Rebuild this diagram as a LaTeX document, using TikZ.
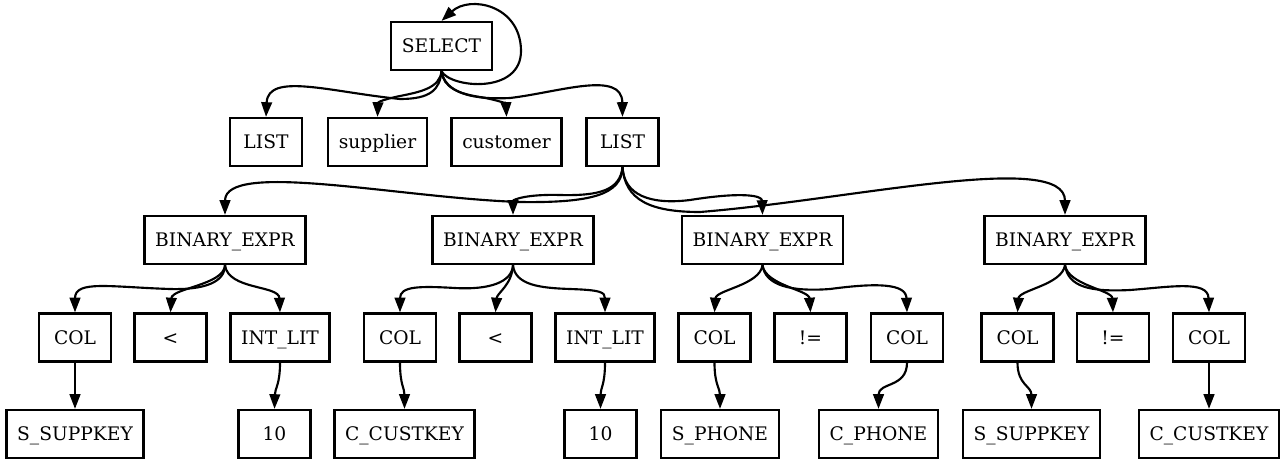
\documentclass[tikz,border=0pt]{standalone}
\usepackage{fontspec}
\setmainfont{DejaVu Serif}
\usepackage{tikz}
\usetikzlibrary{arrows.meta}

\begin{document}
\begin{tikzpicture}[x=0.75pt, y=-0.75pt,
    box/.style={draw, line width=1.7pt, minimum width=54pt, minimum height=36pt,
        inner xsep=8pt, text height=11.5pt, text depth=1.3pt,
        font=\fontsize{14pt}{16pt}\selectfont},
    edge/.style={line width=1.6pt, -{Triangle[length=11pt, width=8pt]}}]
    \useasboundingbox (0,0) rectangle (1285,465);

    % Root
    \node[box] (sel) at (441.5,46) {SELECT};

    % Level 1
    \foreach \n/\x/\t in {l1/266/LIST, sup/377.5/supplier, cus/506.5/customer, l2/622.5/LIST}
        \node[box] (\n) at (\x,142) {\t};

    % Expressions
    \foreach \n/\x in {be1/225, be2/513, be3/762.5, be4/1065}
        \node[box] (\n) at (\x,240) {BINARY\_EXPR};

    % Operands
    \foreach \n/\x/\t in {c1/75/COL, lt1/170.5/<, il1/280/INT\_LIT,
                          c2/400/COL, lt2/495.5/<, il2/605/INT\_LIT,
                          c3/714.5/COL, ne1/810.5/!=, c4/907/COL,
                          c5/1017.5/COL, ne2/1113/!=, c6/1209/COL}
        \node[box] (\n) at (\x,337.5) {\t};

    % Leaves
    \foreach \n/\x/\t in {s1/75/S\_SUPPKEY, t1/274.5/10, k1/404.5/C\_CUSTKEY,
                          t2/600.5/10, p1/720/S\_PHONE, p2/878.5/C\_PHONE,
                          s2/1031.5/S\_SUPPKEY, k2/1209/C\_CUSTKEY}
        \node[box] (\n) at (\x,434) {\t};

    % SELECT edges
    \draw[edge] (sel.south) .. controls (450,88) and (522,95) .. (521,50)
        .. controls (520,5) and (470,-5) .. (sel.north);
    \draw[edge] (sel.south) .. controls (440,90) and (430,99) .. (400,99)
        .. controls (330,92) and (268,72) .. (l1.north);
    \draw[edge] (sel.south) .. controls (440,88) and (420,92) .. (400,96)
        .. controls (385,99) and (378,102) .. (sup.north);
    \draw[edge] (sel.south) .. controls (443,88) and (460,94) .. (480,97)
        .. controls (498,100) and (506,104) .. (cus.north);
    \draw[edge] (sel.south) .. controls (445,92) and (470,100) .. (510,98)
        .. controls (560,92) and (622,70) .. (l2.north);

    % LIST edges
    \draw[edge] (l2.south) .. controls (622,195) and (590,203) .. (520,202)
        .. controls (400,198) and (225,160) .. (be1.north);
    \draw[edge] (l2.south) .. controls (620,190) and (600,196) .. (560,195)
        .. controls (525,194) and (513,200) .. (be2.north);
    \draw[edge] (l2.south) .. controls (624,195) and (650,205) .. (690,200)
        .. controls (740,192) and (762,195) .. (be3.north);
    \draw[edge] (l2.south) .. controls (625,200) and (650,212) .. (700,212)
        .. controls (850,200) and (1065,150) .. (be4.north);

    % Operand edges
    \draw[edge] (be1.south) .. controls (225,282) and (205,290) .. (170,289)
        .. controls (110,287) and (75,280) .. (c1.north);
    \draw[edge] (be1.south) .. controls (224,285) and (172,288) .. (lt1.north);
    \draw[edge] (be1.south) .. controls (228,290) and (279,285) .. (il1.north);

    \draw[edge] (be2.south) .. controls (512,282) and (490,290) .. (455,288)
        .. controls (420,286) and (400,286) .. (c2.north);
    \draw[edge] (be2.south) .. controls (512,285) and (497,293) .. (lt2.north);
    \draw[edge] (be2.south) .. controls (515,285) and (540,288) .. (570,289)
        .. controls (600,290) and (605,292) .. (il2.north);

    \draw[edge] (be3.south) .. controls (760,285) and (716,290) .. (c3.north);
    \draw[edge] (be3.south) .. controls (765,285) and (809,290) .. (ne1.north);
    \draw[edge] (be3.south) .. controls (765,285) and (790,292) .. (830,289)
        .. controls (875,283) and (906,283) .. (c4.north);

    \draw[edge] (be4.south) .. controls (1062,285) and (1019,290) .. (c5.north);
    \draw[edge] (be4.south) .. controls (1068,285) and (1112,290) .. (ne2.north);
    \draw[edge] (be4.south) .. controls (1068,287) and (1090,292) .. (1130,290)
        .. controls (1170,287) and (1208,280) .. (c6.north);

    % Leaf edges
    \draw[edge] (c1) -- (s1);
    \draw[edge] (il1.south) .. controls (280,385) and (275,388) .. (t1.north);
    \draw[edge] (c2.south) .. controls (400,385) and (404.5,388) .. (k1.north);
    \draw[edge] (il2.south) .. controls (605,385) and (600.5,388) .. (t2.north);
    \draw[edge] (c3.south) .. controls (714.5,385) and (720,388) .. (p1.north);
    \draw[edge] (c4.south) .. controls (907,388) and (878.5,382) .. (p2.north);
    \draw[edge] (c5.south) .. controls (1017.5,385) and (1031.5,386) .. (s2.north);
    \draw[edge] (c6) -- (k2);
\end{tikzpicture}
\end{document}
